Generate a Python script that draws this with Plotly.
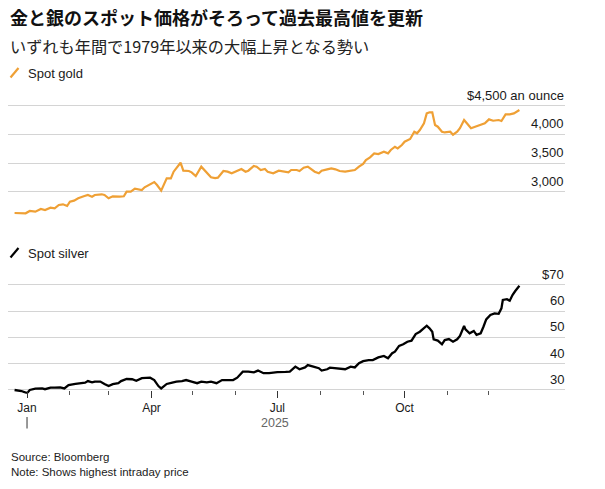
import plotly.graph_objects as go

# ---------------- data ----------------
gold_dates = [
    "2024-12-23", "2024-12-31", "2025-01-03", "2025-01-07", "2025-01-11", "2025-01-14",
    "2025-01-18", "2025-01-21", "2025-01-24", "2025-01-27", "2025-01-30", "2025-02-01",
    "2025-02-04", "2025-02-07", "2025-02-11", "2025-02-14", "2025-02-17", "2025-02-19",
    "2025-02-24", "2025-02-26", "2025-03-01", "2025-03-04", "2025-03-09", "2025-03-12",
    "2025-03-14", "2025-03-17", "2025-03-20", "2025-03-25", "2025-03-27", "2025-04-01",
    "2025-04-03", "2025-04-05", "2025-04-08", "2025-04-12", "2025-04-15", "2025-04-17",
    "2025-04-20", "2025-04-22", "2025-04-24", "2025-04-28", "2025-04-30", "2025-05-03",
    "2025-05-07", "2025-05-10", "2025-05-14", "2025-05-17", "2025-05-19", "2025-05-23",
    "2025-05-26", "2025-05-29", "2025-06-02", "2025-06-05", "2025-06-08", "2025-06-10",
    "2025-06-14", "2025-06-16", "2025-06-19", "2025-06-22", "2025-06-24", "2025-06-28",
    "2025-07-02", "2025-07-05", "2025-07-09", "2025-07-11", "2025-07-15", "2025-07-17",
    "2025-07-20", "2025-07-23", "2025-07-26", "2025-07-28", "2025-07-31", "2025-08-02",
    "2025-08-06", "2025-08-09", "2025-08-12", "2025-08-15", "2025-08-19", "2025-08-22",
    "2025-08-26", "2025-08-29", "2025-09-01", "2025-09-03", "2025-09-06", "2025-09-09",
    "2025-09-12", "2025-09-16", "2025-09-19", "2025-09-21", "2025-09-24", "2025-09-26",
    "2025-09-29", "2025-10-01", "2025-10-05", "2025-10-08", "2025-10-10", "2025-10-12",
    "2025-10-15", "2025-10-17", "2025-10-19", "2025-10-21", "2025-10-23", "2025-10-25",
    "2025-10-28", "2025-10-30", "2025-11-03", "2025-11-05", "2025-11-08", "2025-11-10",
    "2025-11-13", "2025-11-15", "2025-11-18", "2025-11-21", "2025-11-25", "2025-11-28",
    "2025-12-01", "2025-12-04", "2025-12-08", "2025-12-10", "2025-12-13", "2025-12-16",
    "2025-12-19", "2025-12-23",
]
gold_values = [
    2635, 2630, 2670, 2658, 2705, 2687,
    2727, 2716, 2774, 2786, 2757, 2832,
    2849, 2890, 2925, 2948, 2919, 2948,
    2960, 2948, 2890, 2925, 2919, 2925,
    3005, 3005, 3057, 3035, 3082, 3139,
    3172, 3122, 3023, 3238, 3238, 3353,
    3440, 3509, 3370, 3365, 3342, 3278,
    3440, 3353, 3255, 3243, 3249, 3365,
    3353, 3325, 3370, 3400, 3353, 3370,
    3452, 3440, 3382, 3400, 3353, 3325,
    3370, 3353, 3342, 3382, 3382, 3365,
    3422, 3440, 3382, 3353, 3325, 3370,
    3394, 3411, 3394, 3365, 3353, 3370,
    3382, 3440, 3487, 3556, 3603, 3672,
    3660, 3700, 3672, 3730, 3787, 3759,
    3817, 3874, 3921, 4048, 4020, 4077,
    4194, 4367, 4385, 4385, 4164, 4135,
    4048, 4035, 4048, 3995, 4048, 4110,
    4251, 4194, 4107, 4135, 4164, 4194,
    4263, 4239, 4251, 4234, 4350, 4350,
    4367, 4425,
]

silver_dates = [
    "2024-12-23", "2024-12-28", "2025-01-01", "2025-01-03", "2025-01-07", "2025-01-12",
    "2025-01-14", "2025-01-18", "2025-01-21", "2025-01-25", "2025-01-28", "2025-01-31",
    "2025-02-05", "2025-02-08", "2025-02-12", "2025-02-14", "2025-02-17", "2025-02-19",
    "2025-02-23", "2025-02-26", "2025-03-01", "2025-03-04", "2025-03-08", "2025-03-10",
    "2025-03-14", "2025-03-18", "2025-03-21", "2025-03-25", "2025-03-28", "2025-03-31",
    "2025-04-03", "2025-04-06", "2025-04-08", "2025-04-12", "2025-04-16", "2025-04-19",
    "2025-04-23", "2025-04-26", "2025-04-30", "2025-05-04", "2025-05-07", "2025-05-11",
    "2025-05-14", "2025-05-18", "2025-05-22", "2025-05-25", "2025-05-30", "2025-06-02",
    "2025-06-04", "2025-06-06", "2025-06-10", "2025-06-14", "2025-06-17", "2025-06-21",
    "2025-06-25", "2025-06-28", "2025-07-01", "2025-07-07", "2025-07-10", "2025-07-14",
    "2025-07-17", "2025-07-21", "2025-07-23", "2025-07-27", "2025-07-31", "2025-08-02",
    "2025-08-06", "2025-08-08", "2025-08-12", "2025-08-15", "2025-08-19", "2025-08-23",
    "2025-08-26", "2025-08-29", "2025-09-01", "2025-09-05", "2025-09-08", "2025-09-12",
    "2025-09-16", "2025-09-19", "2025-09-22", "2025-09-24", "2025-09-27", "2025-09-30",
    "2025-10-03", "2025-10-06", "2025-10-09", "2025-10-12", "2025-10-15", "2025-10-17",
    "2025-10-19", "2025-10-21", "2025-10-22", "2025-10-25", "2025-10-28", "2025-10-30",
    "2025-11-02", "2025-11-05", "2025-11-08", "2025-11-10", "2025-11-13", "2025-11-14",
    "2025-11-17", "2025-11-20", "2025-11-22", "2025-11-25", "2025-11-27", "2025-11-29",
    "2025-12-02", "2025-12-05", "2025-12-08", "2025-12-10", "2025-12-11", "2025-12-14",
    "2025-12-16", "2025-12-18", "2025-12-20", "2025-12-23",
]
silver_values = [
    30.0, 29.6, 28.8, 30.0, 30.5, 30.6,
    30.3, 30.9, 30.9, 31.0, 30.6, 31.9,
    32.3, 32.6, 32.8, 33.4, 32.9, 33.2,
    33.2, 32.3, 31.5, 32.2, 32.6, 33.4,
    34.2, 34.1, 33.5, 34.5, 34.5, 34.7,
    33.8, 31.5, 30.6, 32.3, 32.8, 33.2,
    33.4, 33.8, 33.2, 32.6, 33.2, 32.9,
    33.2, 32.6, 33.8, 33.8, 33.8, 34.7,
    36.0, 37.0, 37.0, 36.7, 37.4, 36.4,
    36.4, 36.7, 36.8, 36.9, 37.0, 38.9,
    37.9, 38.6, 39.5, 38.9, 38.3, 37.4,
    37.9, 38.5, 38.3, 38.3, 37.9, 38.9,
    38.6, 40.2, 41.0, 41.4, 41.4, 42.4,
    43.0, 42.1, 44.0, 44.6, 46.8, 47.4,
    48.4, 48.8, 51.3, 52.2, 53.5, 54.5,
    53.5, 52.2, 49.3, 48.8, 47.4, 49.0,
    49.4, 48.4, 49.3, 50.6, 54.4, 53.1,
    51.6, 52.5, 51.0, 51.6, 54.1, 56.9,
    58.6, 59.2, 59.0, 61.1, 64.3, 64.6,
    64.0, 66.2, 67.7, 69.7,
]

gold_ticks = [3000, 3500, 4000, 4500]
gold_tick_labels = ["3,000", "3,500", "4,000", "$4,500 an ounce"]
silver_ticks = [30, 40, 50, 60, 70]
silver_tick_labels = ["30", "40", "50", "60", "$70"]
month_major = ["2025-01-01", "2025-04-01", "2025-07-01", "2025-10-01"]
month_major_labels = ["Jan", "Apr", "Jul", "Oct"]
month_minor = ["2025-02-01", "2025-03-01", "2025-05-01", "2025-06-01",
               "2025-08-01", "2025-09-01", "2025-11-01", "2025-12-01"]

title = "金と銀のスポット価格がそろって過去最高値を更新"
subtitle = "いずれも年間で1979年以来の大幅上昇となる勢い"

# ---------------- layout helpers ----------------
# The page's default 8px body margin is removed (post_script below), so the
# figure fills the 605x489 window and positions are window pixels.
W, H = 605, 489
def px(x):
    return x / W
def py(y):
    return 1 - y / H

GOLD = "#EFA035"
GRID = "#D4D4D4"
TXT = "#1a1a1a"
LAT = "Liberation Sans, Arial, Noto Sans CJK JP, sans-serif"
CJK = "Noto Sans CJK JP, sans-serif"

x_range = ["2024-12-18 06:00", "2026-01-24 23:00"]

# gold axis: 3000 at y=192px, 4500 at 105.7px
g_ppv = (192 - 105.7) / 1500
g_rng = [2600, 4520]
g_bot = 192 + (3000 - g_rng[0]) * g_ppv
g_top = 105.7 - (g_rng[1] - 4500) * g_ppv
# silver axis: 30 at 390px, 70 at 285px
s_ppv = (390 - 285) / 40
s_rng = [28.6, 70.5]
s_bot = 390 + (30 - s_rng[0]) * s_ppv
s_top = 285 - (s_rng[1] - 70) * s_ppv

fig = go.Figure()
fig.add_trace(go.Scatter(x=gold_dates, y=gold_values, mode="lines",
                         line=dict(color=GOLD, width=2.2), xaxis="x", yaxis="y",
                         showlegend=False, hoverinfo="skip"))
fig.add_trace(go.Scatter(x=silver_dates, y=silver_values, mode="lines",
                         line=dict(color="#000000", width=2.3), xaxis="x2", yaxis="y2",
                         showlegend=False, hoverinfo="skip"))

dom_x = [px(8), px(565)]

fig.update_layout(
    width=W, height=H, autosize=False,
    margin=dict(l=0, r=0, t=0, b=0, pad=0),
    paper_bgcolor="white", plot_bgcolor="white",
    font=dict(family=LAT, color=TXT, size=12),
    showlegend=False,
    xaxis=dict(domain=dom_x, range=x_range, type="date", visible=False,
               anchor="y"),
    yaxis=dict(domain=[py(g_bot), py(g_top)], range=g_rng, tickmode="array",
               tickvals=gold_ticks, showticklabels=False, showgrid=True,
               gridcolor=GRID, gridwidth=1, zeroline=False, showline=False,
               ticks="", anchor="x"),
    xaxis2=dict(domain=dom_x, range=x_range, type="date", anchor="free",
                position=py(390), showgrid=False, zeroline=False, showline=False,
                tickmode="array", tickvals=month_major, ticktext=month_major_labels,
                ticks="outside", ticklen=7, tickwidth=1, tickcolor="#333333",
                tickfont=dict(family=LAT, size=12, color=TXT),
                minor=dict(tickmode="array", tickvals=month_minor, ticks="outside",
                           ticklen=4, tickwidth=1, tickcolor="#555555", showgrid=False)),
    yaxis2=dict(domain=[py(s_bot), py(s_top)], range=s_rng, tickmode="array",
                tickvals=silver_ticks, showticklabels=False, showgrid=True,
                gridcolor=GRID, gridwidth=1, zeroline=False, showline=False,
                ticks="", anchor="x2"),
)

ann = []
ann.append(dict(text=f"<b>{title}</b>", x=px(8), y=py(16.5), xref="paper", yref="paper",
                xanchor="left", yanchor="middle", showarrow=False,
                font=dict(family=CJK, size=18, color="#111111")))
ann.append(dict(text=subtitle, x=px(8), y=py(45.5), xref="paper", yref="paper",
                xanchor="left", yanchor="middle", showarrow=False,
                font=dict(family=CJK, size=16.2, color="#222222")))
ann.append(dict(text="Spot gold", x=px(26), y=py(73), xref="paper", yref="paper",
                xanchor="left", yanchor="middle", showarrow=False,
                font=dict(family=LAT, size=13, color=TXT)))
ann.append(dict(text="Spot silver", x=px(26), y=py(253), xref="paper", yref="paper",
                xanchor="left", yanchor="middle", showarrow=False,
                font=dict(family=LAT, size=13, color=TXT)))
for v, t in zip(gold_ticks, gold_tick_labels):
    ann.append(dict(text=t, x=px(566), y=v, xref="paper", yref="y",
                    xanchor="right", yanchor="bottom", yshift=1, showarrow=False,
                    font=dict(family=LAT, size=13, color=TXT)))
for v, t in zip(silver_ticks, silver_tick_labels):
    ann.append(dict(text=t, x=px(566), y=v, xref="paper", yref="y2",
                    xanchor="right", yanchor="bottom", yshift=1, showarrow=False,
                    font=dict(family=LAT, size=13, color=TXT)))
ann.append(dict(text="2025", x=px(275), y=py(422.5), xref="paper", yref="paper",
                xanchor="center", yanchor="middle", showarrow=False,
                font=dict(family=LAT, size=12.5, color="#666666")))
ann.append(dict(text="Source: Bloomberg", x=px(9), y=py(457), xref="paper", yref="paper",
                xanchor="left", yanchor="middle", showarrow=False,
                font=dict(family=LAT, size=11.5, color="#222222")))
ann.append(dict(text="Note: Shows highest intraday price", x=px(9), y=py(472),
                xref="paper", yref="paper", xanchor="left", yanchor="middle",
                showarrow=False, font=dict(family=LAT, size=11.5, color="#222222")))
fig.update_layout(annotations=ann)

shapes = []
# legend slash icons
shapes.append(dict(type="line", xref="paper", yref="paper", x0=px(10.5), y0=py(77.5),
                   x1=px(18.5), y1=py(68), line=dict(color=GOLD, width=2.2)))
shapes.append(dict(type="line", xref="paper", yref="paper", x0=px(10.5), y0=py(257.5),
                   x1=px(18.5), y1=py(248), line=dict(color="#000000", width=2.2)))
# year marker under Jan
shapes.append(dict(type="line", xref="x2", yref="paper", x0="2025-01-01", x1="2025-01-01",
                   y0=py(417), y1=py(428.5), line=dict(color="#333333", width=1)))
fig.update_layout(shapes=shapes)

fig.write_html("out.html",
               config={"displayModeBar": False, "staticPlot": True},
               post_script="document.body.style.margin='0';document.body.style.overflow='hidden';")
